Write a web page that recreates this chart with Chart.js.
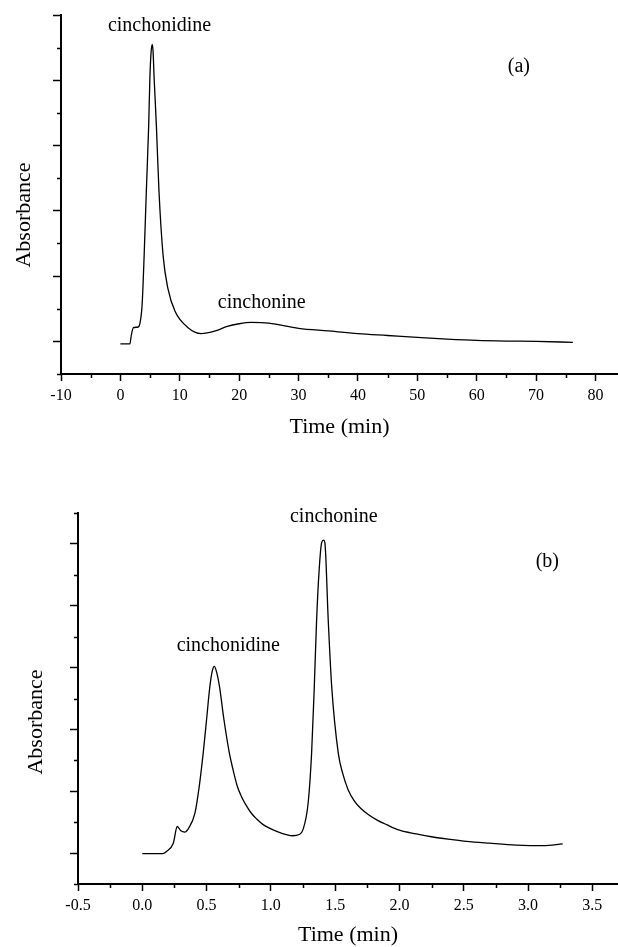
<!DOCTYPE html>
<html>
<head>
<meta charset="utf-8">
<script src="https://cdn.jsdelivr.net/npm/chart.js@4/dist/chart.umd.min.js"></script>
<style>
  body { margin: 0; background: #fff; }
  #wrap { position: relative; width: 618px; height: 947px; }
  canvas { position: absolute; left: 0; }
</style>
</head>
<body>
<div id="wrap">
  <canvas id="chartA" width="618" height="470" style="top:0"></canvas>
  <canvas id="chartB" width="618" height="477" style="top:470px"></canvas>
</div>
<script>
// (a) chromatogram, time in min
const timeA = [0, 1.6, 1.85, 2.2, 3.0, 3.3, 3.66, 4.0, 4.37, 4.76, 4.97, 5.15, 5.35, 5.5, 5.68, 6.07, 6.5, 7.2, 8.0, 9.2, 11.4, 13.6, 16, 18, 20, 22, 25, 30, 35, 40, 45, 50, 55, 60, 65, 70, 76.2];
const absA  = [-0.04, -0.04, 0.1, 0.21, 0.22, 0.28, 0.56, 1.31, 2.30, 3.29, 4.04, 4.4, 4.55, 4.45, 4.04, 3.29, 2.30, 1.31, 0.81, 0.46, 0.21, 0.12, 0.16, 0.23, 0.27, 0.29, 0.28, 0.2, 0.16, 0.12, 0.09, 0.06, 0.035, 0.015, 0.005, 0.0, -0.015];

// (b) chromatogram
const timeB = [0, 0.16, 0.19, 0.241, 0.272, 0.3, 0.33, 0.36, 0.41, 0.443, 0.474, 0.5, 0.526, 0.545, 0.56, 0.575, 0.6, 0.635, 0.677, 0.70, 0.739, 0.77, 0.8, 0.85, 0.89, 0.94, 0.993, 1.06, 1.12, 1.17, 1.22, 1.25, 1.29, 1.317, 1.338, 1.356, 1.376, 1.395, 1.41, 1.42, 1.446, 1.473, 1.524, 1.56, 1.6, 1.65, 1.7, 1.76, 1.83, 1.9, 2.0, 2.13, 2.26, 2.4, 2.52, 2.7, 2.91, 3.12, 3.27];
const absB  = [-0.01, -0.01, 0.03, 0.16, 0.43, 0.36, 0.34, 0.40, 0.65, 1.08, 1.62, 2.16, 2.70, 2.95, 3.02, 2.95, 2.70, 2.16, 1.62, 1.40, 1.08, 0.92, 0.80, 0.64, 0.55, 0.46, 0.40, 0.34, 0.30, 0.28, 0.30, 0.38, 0.81, 1.62, 2.70, 3.78, 4.59, 5.02, 5.06, 5.02, 3.78, 2.70, 1.62, 1.28, 1.03, 0.84, 0.72, 0.62, 0.53, 0.46, 0.37, 0.31, 0.26, 0.22, 0.19, 0.16, 0.13, 0.12, 0.15];

// ticks
const xMajorA = [-10, 0, 10, 20, 30, 40, 50, 60, 70, 80];
const xMinorA = [-5, 5, 15, 25, 35, 45, 55, 65, 75];
const yMajorA = [0, 1, 2, 3, 4, 5];
const yMinorA = [-0.5, 0.5, 1.5, 2.5, 3.5, 4.5];

const xMajorB = [-0.5, 0, 0.5, 1, 1.5, 2, 2.5, 3, 3.5];
const xMinorB = [-0.25, 0.25, 0.75, 1.25, 1.75, 2.25, 2.75, 3.25];
const yMajorB = [0, 1, 2, 3, 4, 5];
const yMinorB = [-0.5, 0.5, 1.5, 2.5, 3.5, 4.5, 5.5];

// peak labels: [text, time, absorbance]
const notesA = [['cinchonidine', 6.6, 4.75], ['cinchonine', 23.8, 0.51], ['(a)', 67.1, 4.12]];
const notesB = [['cinchonidine', 0.669, 3.27], ['cinchonine', 1.49, 5.35], ['(b)', 3.15, 4.62]];

const serif = 'Liberation Serif, Times New Roman, serif';

// minor ticks, y title and text labels
const extras = {
  id: 'extras',
  afterDraw(chart, args, opts) {
    const ctx = chart.ctx;
    const xs = chart.scales.x, ys = chart.scales.y;
    ctx.save();
    ctx.strokeStyle = '#000';
    ctx.lineWidth = 1.5;
    ctx.beginPath();
    opts.xMinor.forEach(v => {
      const px = Math.round(xs.getPixelForValue(v)) + 0.5;
      ctx.moveTo(px, xs.top);
      ctx.lineTo(px, xs.top + 4);
    });
    opts.yMinor.forEach(v => {
      const py = Math.round(ys.getPixelForValue(v)) + 0.5;
      ctx.moveTo(ys.right, py);
      ctx.lineTo(ys.right - 4, py);
    });
    ctx.stroke();
    ctx.fillStyle = '#000';
    ctx.font = '20px ' + serif;
    ctx.textAlign = 'center';
    ctx.textBaseline = 'alphabetic';
    opts.notes.forEach(n => {
      ctx.fillText(n[0], xs.getPixelForValue(n[1]), ys.getPixelForValue(n[2]));
    });
    // y axis title
    ctx.font = '22px ' + serif;
    ctx.textBaseline = 'middle';
    ctx.translate(opts.yTitle[0], opts.yTitle[1]);
    ctx.rotate(-Math.PI / 2);
    ctx.fillText('Absorbance', 0, 0);
    ctx.restore();
  }
};

function makeChart(id, xs, ys, cfg) {
  const pts = xs.map((x, i) => ({ x: x, y: ys[i] }));
  return new Chart(document.getElementById(id), {
    type: 'line',
    data: {
      datasets: [{
        data: pts,
        borderColor: '#000',
        borderWidth: 1.3,
        pointRadius: 0,
        fill: false,
        cubicInterpolationMode: 'monotone'
      }]
    },
    options: {
      responsive: false,
      animation: false,
      devicePixelRatio: 1,
      layout: { padding: { left: 0, right: 0, top: cfg.top, bottom: 0 } },
      plugins: {
        legend: { display: false },
        tooltip: { enabled: false },
        extras: { xMinor: cfg.xMinor, yMinor: cfg.yMinor, notes: cfg.notes, yTitle: cfg.yTitle }
      },
      scales: {
        x: {
          type: 'linear',
          min: cfg.xMin, max: cfg.xMax,
          afterBuildTicks: s => { s.ticks = cfg.xMajor.map(v => ({ value: v })); },
          afterFit: s => { s.height = cfg.xH; },
          border: { display: true, color: '#000', width: 2 },
          grid: { drawOnChartArea: false, drawTicks: true, tickLength: 7, tickColor: '#000', tickWidth: 1.5 },
          ticks: {
            color: '#000', padding: 5, maxRotation: 0, autoSkip: false,
            font: { family: serif, size: 16 },
            callback: v => cfg.fmt(v)
          },
          title: {
            display: true, text: 'Time (min)', color: '#000',
            font: { family: serif, size: 22, lineHeight: 1 },
            padding: { top: 0, bottom: cfg.titlePad }
          }
        },
        y: {
          type: 'linear',
          min: cfg.yMin, max: cfg.yMax,
          afterBuildTicks: s => { s.ticks = cfg.yMajor.map(v => ({ value: v })); },
          afterFit: s => { s.width = cfg.yW; },
          border: { display: true, color: '#000', width: 2 },
          grid: { drawOnChartArea: false, drawTicks: true, tickLength: 8, tickColor: '#000', tickWidth: 1.5 },
          ticks: { display: false }
        }
      }
    },
    plugins: [extras]
  });
}

makeChart('chartA', timeA, absA, {
  top: 15, xH: 96, yW: 61, titlePad: 32, yTitle: [24, 215],
  xMin: -10, xMax: 83.8, yMin: -0.5, yMax: 5,
  xMajor: xMajorA, xMinor: xMinorA, yMajor: yMajorA, yMinor: yMinorA,
  notes: notesA, fmt: v => String(v)
});

makeChart('chartB', timeB, absB, {
  top: 43, xH: 63, yW: 78, titlePad: 1, yTitle: [36, 252],
  xMin: -0.5, xMax: 3.7, yMin: -0.5, yMax: 5.5,
  xMajor: xMajorB, xMinor: xMinorB, yMajor: yMajorB, yMinor: yMinorB,
  notes: notesB, fmt: v => v.toFixed(1)
});
</script>
</body>
</html>
